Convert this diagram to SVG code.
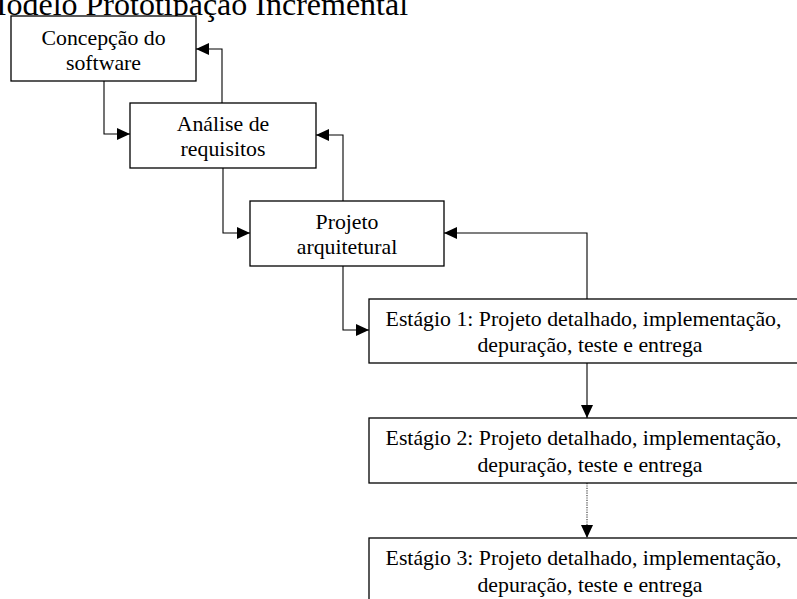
<svg xmlns="http://www.w3.org/2000/svg" width="797" height="599" viewBox="0 0 797 599">
<style>
.box{fill:#fff;stroke:#000;stroke-width:1.3}
.t{font-family:"Liberation Serif","Times New Roman",serif;font-size:21.8px;fill:#000;text-anchor:middle}
.title{font-family:"Liberation Serif","Times New Roman",serif;font-size:32px;fill:#000}
.c{fill:none;stroke:#000;stroke-width:1.1}
.dot{stroke-dasharray:1.2,1.2;stroke:#333}
</style>
<defs>
<marker id="ah" markerUnits="userSpaceOnUse" markerWidth="14" markerHeight="12" refX="13" refY="6" orient="auto">
<path d="M0,0 L13,6 L0,12 Z" fill="#000"/>
</marker>
</defs>
<rect width="797" height="599" fill="#fff"/>
<text class="title" x="-22" y="15">Modelo Prototipação Incremental</text>
<g id="connectors">
<path class="c" d="M104,81 V134 H130" marker-end="url(#ah)"/>
<path class="c" d="M222,103 V49 H196" marker-end="url(#ah)"/>
<path class="c" d="M223,168 V233 H250" marker-end="url(#ah)"/>
<path class="c" d="M343,201 V135 H316" marker-end="url(#ah)"/>
<path class="c" d="M587,299 V233 H444" marker-end="url(#ah)"/>
<path class="c" d="M343,266 V330 H369" marker-end="url(#ah)"/>
<path class="c" d="M587,363 V418" marker-end="url(#ah)"/>
<path class="c dot" d="M587,483 V538" marker-end="url(#ah)"/>
</g>
<g id="n1">
<rect class="box" x="11" y="16" width="185" height="65"/>
<text class="t" x="103.5" y="45">Concepção do</text>
<text class="t" x="103.5" y="70">software</text>
</g>
<g id="n2">
<rect class="box" x="130" y="103" width="186" height="65"/>
<text class="t" x="223" y="131">Análise de</text>
<text class="t" x="223" y="155.5">requisitos</text>
</g>
<g id="n3">
<rect class="box" x="250" y="201" width="194" height="65"/>
<text class="t" x="347" y="228.5">Projeto</text>
<text class="t" x="347" y="253.5">arquitetural</text>
</g>
<g id="n4">
<rect class="box" x="369" y="299" width="440" height="64"/>
<text class="t" x="583.5" y="325.5">Estágio 1: Projeto detalhado, implementação,</text>
<text class="t" x="590" y="351.5">depuração, teste e entrega</text>
</g>
<g id="n5">
<rect class="box" x="369" y="418" width="440" height="65"/>
<text class="t" x="583.5" y="445">Estágio 2: Projeto detalhado, implementação,</text>
<text class="t" x="590" y="471.5">depuração, teste e entrega</text>
</g>
<g id="n6">
<rect class="box" x="369" y="538" width="440" height="70"/>
<text class="t" x="583.5" y="565">Estágio 3: Projeto detalhado, implementação,</text>
<text class="t" x="590" y="591.5">depuração, teste e entrega</text>
</g>
</svg>
